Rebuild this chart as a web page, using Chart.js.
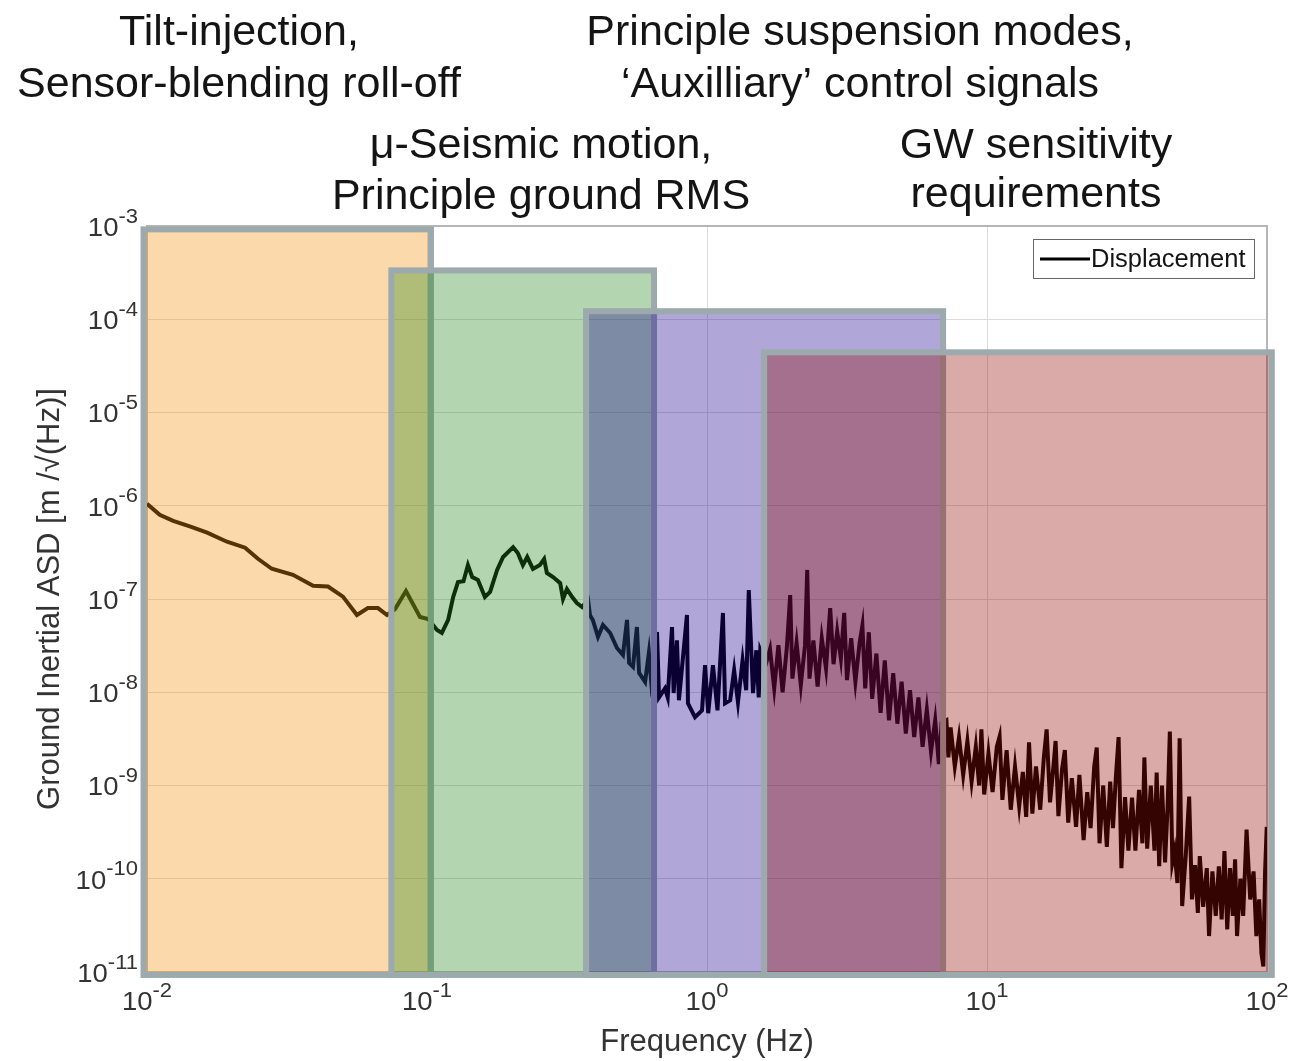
<!DOCTYPE html>
<html><head><meta charset="utf-8">
<script src="https://cdn.jsdelivr.net/npm/chart.js@4.4.0/dist/chart.umd.min.js"></script>
<style>html,body{margin:0;padding:0;background:#fff;overflow:hidden}</style>
</head><body>
<canvas id="c" width="1294" height="1061"></canvas>
<script>
// ---------- data ----------
const freqHz = [
0.0100,0.0111,0.0124,0.0143,0.0164,0.0193,0.0224,0.0249,0.0279,0.0332,0.0392,0.0443,0.0501,0.0562,0.0615,0.0668,0.0720,
0.0769,0.0841,0.0944,0.101,0.1086,0.113,0.119,0.124,0.129,0.135,0.140,0.145,0.152,0.161,0.168,0.178,0.187,0.203,0.211,0.220,0.228,0.239,0.253,0.262,0.268,0.282,0.299,0.306,0.316,0.330,0.343,0.358,
0.376,0.382,0.391,0.408,0.425,0.451,0.477,0.501,0.518,0.527,0.544,0.562,0.572,0.601,0.620,0.631,
0.663,0.674,0.708,0.724,0.750,0.760,0.781,0.794,0.848,0.855,0.906,0.960,0.984,1.01,1.05,1.09,1.14,1.16,1.21,1.25,1.29,1.34,1.38,1.41,1.46,1.50,1.53,1.55,
1.622,1.679,1.738,1.799,1.862,1.928,1.982,2.018,2.089,2.163,2.239,2.280,2.323,2.399,2.483,2.570,2.661,2.754,2.831,2.917,3.006,3.090,3.162,3.273,3.388,3.508,3.589,3.673,3.784,3.890,4.027,4.169,4.315,4.467,4.624,4.786,4.955,5.129,5.309,5.495,5.689,5.888,6.095,6.310,6.531,6.730,6.887,
7.161,7.278,7.413,7.674,7.943,8.222,8.511,8.810,9.120,9.376,9.550,9.772,10.12,10.47,10.84,11.09,11.35,11.75,12.16,12.59,13.03,13.43,13.80,14.13,14.52,14.96,15.49,15.96,16.33,16.79,17.30,17.58,17.99,18.54,18.97,19.50,20.09,20.80,21.38,22.13,22.80,23.44,24.15,24.66,25.23,
26.00,26.79,27.54,28.18,28.84,29.51,30.20,31.12,31.99,32.96,33.88,34.91,35.89,36.48,37.33,38.46,39.63,40.36,41.21,42.17,43.25,44.16,44.98,45.92,46.77,47.86,48.75,49.77,51.29,52.72,53.95,55.34,56.62,57.54,59.16,60.95,62.09,63.83,65.61,67.30,68.87,70.47,72.11,73.79,75.51,76.91,78.16,80.35,82.22,84.53,87.10,89.54,91.62,93.76,95.50,97.05,98.40,99.77
];
const asdDisplacement = [
1.05e-6,8.0e-7,6.9e-7,5.96e-7,5.14e-7,4.11e-7,3.55e-7,2.7e-7,2.11e-7,1.82e-7,1.39e-7,1.36e-7,1.06e-7,6.74e-8,8.0e-8,8.0e-8,6.74e-8,
7.8e-8,1.22e-7,6.41e-8,6.1e-8,4.65e-8,4.32e-8,5.96e-8,1.05e-7,1.52e-7,1.55e-7,2.31e-7,1.72e-7,1.6e-7,1.05e-7,1.19e-7,2.05e-7,2.82e-7,3.6e-7,3.11e-7,2.31e-7,2.82e-7,2.1e-7,2.31e-7,2.69e-7,1.9e-7,1.72e-7,1.48e-7,1.0e-7,1.28e-7,1.05e-7,9.06e-8,8.2e-8,
9.8e-8,6.7e-8,5.96e-8,3.92e-8,5.26e-8,4.32e-8,2.98e-8,2.51e-8,5.96e-8,2.06e-8,1.87e-8,5.0e-8,1.61e-8,1.29e-8,2.64e-8,1.38e-8,
4.43e-8,8.8e-9,1.1e-8,8.8e-9,5.0e-8,9.8e-9,3.6e-8,8.2e-9,6.74e-8,7.6e-9,5.4e-9,6.4e-9,1.95e-8,5.96e-9,1.95e-8,6.4e-9,7.08e-8,7.6e-9,8.2e-9,1.72e-8,7.8e-9,2.2e-8,1.05e-8,1.25e-7,9.8e-9,2.82e-8,8.8e-9,2.82e-8,
2.0e-8,2.9e-8,1.1e-8,3.2e-8,1.0e-8,3.0e-8,1.1e-7,1.4e-8,3.4e-8,1.2e-8,3.2e-8,2.05e-7,1.4e-8,3.6e-8,1.15e-8,3.8e-8,1.8e-8,8.0e-8,2.0e-8,4.5e-8,2.3e-8,7.1e-8,1.35e-8,3.8e-8,1.3e-8,3.4e-8,5.2e-8,1.1e-8,4.4e-8,8.5e-9,2.6e-8,6.0e-9,2.2e-8,5.0e-9,1.6e-8,4.6e-9,1.3e-8,3.6e-9,1.05e-8,3.3e-9,8.8e-9,2.6e-9,6.5e-9,2.3e-9,5.0e-9,1.7e-9,4.7e-9,
5.0e-9,2.0e-9,4.2e-9,1.6e-9,3.3e-9,1.3e-9,3.0e-9,1.1e-9,2.6e-9,1.0e-9,4.0e-9,8.0e-10,2.2e-9,8.5e-10,2.6e-9,3.35e-9,7.0e-10,2.4e-9,5.5e-10,1.6e-9,6.0e-10,1.4e-9,4.6e-10,2.9e-9,5.0e-10,1.6e-9,5.5e-10,2.0e-9,4.0e-9,6.6e-10,1.7e-9,3.0e-9,4.7e-10,1.5e-9,2.4e-9,4.0e-10,1.2e-9,3.6e-10,1.3e-9,2.6e-10,8.5e-10,3.5e-10,1.6e-9,2.55e-9,2.4e-10,
1.0e-9,2.2e-10,1.1e-9,3.5e-10,1.2e-9,3.3e-9,1.3e-10,7.5e-10,2.0e-10,7.4e-10,2.0e-10,9.0e-10,2.4e-10,2.0e-9,2.1e-10,1.0e-9,2.0e-10,1.38e-9,1.36e-10,1.0e-9,1.5e-10,6.0e-10,3.8e-9,1.5e-10,2.0e-10,9.0e-11,3.2e-9,5.1e-11,1.8e-10,7.6e-10,6.0e-11,1.4e-10,4.3e-11,1.75e-10,5.0e-11,1.3e-10,2.43e-11,1.2e-10,4.0e-11,1.36e-10,3.66e-11,1.98e-10,2.86e-11,1.3e-10,4.0e-11,1.62e-10,2.43e-11,1.0e-10,4.0e-11,3.37e-10,6.0e-11,1.2e-10,2.43e-11,6.0e-11,1.6e-11,1.15e-11,1.16e-10,3.6e-10
];
const seriesLabel = 'Displacement';
const xTickValues = [1e-2, 1e-1, 1e0, 1e1, 1e2];
const yTickValues = [1e-11, 1e-10, 1e-9, 1e-8, 1e-7, 1e-6, 1e-5, 1e-4, 1e-3];
const xAxisTitle = 'Frequency (Hz)';
const yAxisTitle = 'Ground Inertial ASD [m /\u221A(Hz)]';

// frequency bands (shaded boxes)
const bandStartHz = [0.00972, 0.0746, 0.370, 1.60];
const bandEndHz = [0.1033, 0.647, 6.97, 104];
const bandTopAsd = [9.2e-4, 3.34e-4, 1.22e-4, 4.42e-5];
const bandBottomAsd = [9.3e-12, 9.3e-12, 9.3e-12, 9.3e-12];
const bandFill = ['rgba(243,146,12,0.35)', 'rgba(38,138,29,0.35)', 'rgba(29,0,143,0.35)', 'rgba(146,12,6,0.35)'];

// band annotations
const noteLines = [
  ['Tilt-injection,', 'Sensor-blending roll-off'],
  ['\u03BC-Seismic motion,', 'Principle ground RMS'],
  ['Principle suspension modes,', '\u2018Auxilliary\u2019 control signals'],
  ['GW sensitivity', 'requirements']
];

// ---------- drawing ----------
const FONT = "'Liberation Sans', Arial, sans-serif";
const notePos = [
  {x: 239, y: [45, 97]},
  {x: 541, y: [158, 209]},
  {x: 860, y: [45, 97]},
  {x: 1036, y: [158, 207]}
];

function drawPow(ctx, v, x, yMid, align) {
  const e = String(Math.round(Math.log10(v)));
  const sx = 1.1;
  ctx.font = '25px ' + FONT;
  const wb = ctx.measureText('10').width * sx;
  ctx.font = '20px ' + FONT;
  const we = ctx.measureText(e).width * sx;
  const x0 = align === 'right' ? x - wb - we : x - (wb + we) / 2;
  ctx.save();
  ctx.translate(x0, yMid);
  ctx.scale(sx, 1);
  ctx.fillStyle = '#333';
  ctx.textAlign = 'left';
  ctx.textBaseline = 'middle';
  ctx.font = '25px ' + FONT;
  ctx.fillText('10', 0, 0);
  ctx.font = '20px ' + FONT;
  ctx.fillText(e, wb / sx, -12);
  ctx.restore();
}

const overlayPlugin = {
  id: 'overlay',
  beforeDatasetsDraw(chart) {
    const {ctx, chartArea: a} = chart;
    ctx.save();
    ctx.strokeStyle = '#b6b6b6';
    ctx.lineWidth = 2;
    ctx.strokeRect(a.left, a.top, a.right - a.left, a.bottom - a.top);
    ctx.restore();
  },
  afterDatasetsDraw(chart) {
    const {ctx} = chart;
    const xs = chart.scales.x, ys = chart.scales.y;
    ctx.save();
    for (let i = 0; i < bandStartHz.length; i++) {
      const x0 = xs.getPixelForValue(bandStartHz[i]);
      const x1 = xs.getPixelForValue(bandEndHz[i]);
      const y0 = ys.getPixelForValue(bandTopAsd[i]);
      const y1 = ys.getPixelForValue(bandBottomAsd[i]);
      ctx.fillStyle = bandFill[i];
      ctx.fillRect(x0, y0, x1 - x0, y1 - y0);
      ctx.strokeStyle = '#9ca9ad';
      ctx.lineWidth = 6;
      ctx.lineJoin = 'miter';
      ctx.strokeRect(x0, y0, x1 - x0, y1 - y0);
    }
    ctx.restore();
  },
  afterDraw(chart) {
    const {ctx, chartArea: a} = chart;
    const xs = chart.scales.x, ys = chart.scales.y;
    ctx.save();
    // tick labels (powers of ten with superscript exponent)
    ys.ticks.forEach(t => drawPow(ctx, t.value, a.left - 9, ys.getPixelForValue(t.value) + 3, 'right'));
    xs.ticks.forEach(t => drawPow(ctx, t.value, xs.getPixelForValue(t.value), a.bottom + 31, 'center'));
    // annotations
    ctx.fillStyle = '#141414';
    ctx.font = '43px ' + FONT;
    ctx.textAlign = 'center';
    ctx.textBaseline = 'alphabetic';
    noteLines.forEach((lines, i) => {
      lines.forEach((t, j) => ctx.fillText(t, notePos[i].x, notePos[i].y[j]));
    });
    // legend
    const lx = 1033, ly = 239, lw = 221, lh = 39;
    ctx.fillStyle = '#ffffff';
    ctx.fillRect(lx, ly, lw, lh);
    ctx.strokeStyle = '#666';
    ctx.lineWidth = 1;
    ctx.strokeRect(lx + 0.5, ly + 0.5, lw, lh);
    ctx.strokeStyle = '#000';
    ctx.lineWidth = 3;
    ctx.beginPath();
    ctx.moveTo(lx + 7, ly + 20);
    ctx.lineTo(lx + 57, ly + 20);
    ctx.stroke();
    ctx.fillStyle = '#141414';
    ctx.font = '25.5px ' + FONT;
    ctx.textAlign = 'left';
    ctx.textBaseline = 'middle';
    ctx.fillText(chart.data.datasets[0].label, lx + 58, ly + 21);
    ctx.restore();
  }
};

new Chart(document.getElementById('c'), {
  type: 'line',
  data: {
    datasets: [{
      label: seriesLabel,
      data: freqHz.map((f, i) => ({x: f, y: asdDisplacement[i]})),
      borderColor: '#000000',
      borderWidth: 4,
      pointRadius: 0,
      tension: 0,
      fill: false
    }]
  },
  options: {
    responsive: false,
    animation: false,
    devicePixelRatio: 1,
    layout: {padding: {top: 226, right: 27, left: 0, bottom: 0}},
    plugins: {legend: {display: false}, tooltip: {enabled: false}},
    scales: {
      x: {
        type: 'logarithmic', min: 0.01, max: 100,
        afterBuildTicks: s => { s.ticks = xTickValues.map(v => ({value: v})); },
        afterFit: s => { s.height = 89; },
        grid: {color: '#dcdcdc', lineWidth: 1, drawTicks: false},
        border: {display: false},
        ticks: {display: false},
        title: {display: true, text: xAxisTitle, color: '#333', font: {family: FONT, size: 31}, padding: {top: 0, bottom: 0}}
      },
      y: {
        type: 'logarithmic', min: 1e-11, max: 1e-3,
        afterBuildTicks: s => { s.ticks = yTickValues.map(v => ({value: v})); },
        afterFit: s => { s.width = 147; },
        grid: {color: '#dcdcdc', lineWidth: 1, drawTicks: false},
        border: {display: false},
        ticks: {display: false},
        title: {display: true, text: yAxisTitle, color: '#333', font: {family: FONT, size: 31}, padding: {top: 32, bottom: 0}}
      }
    }
  },
  plugins: [overlayPlugin]
});
</script>
</body></html>
